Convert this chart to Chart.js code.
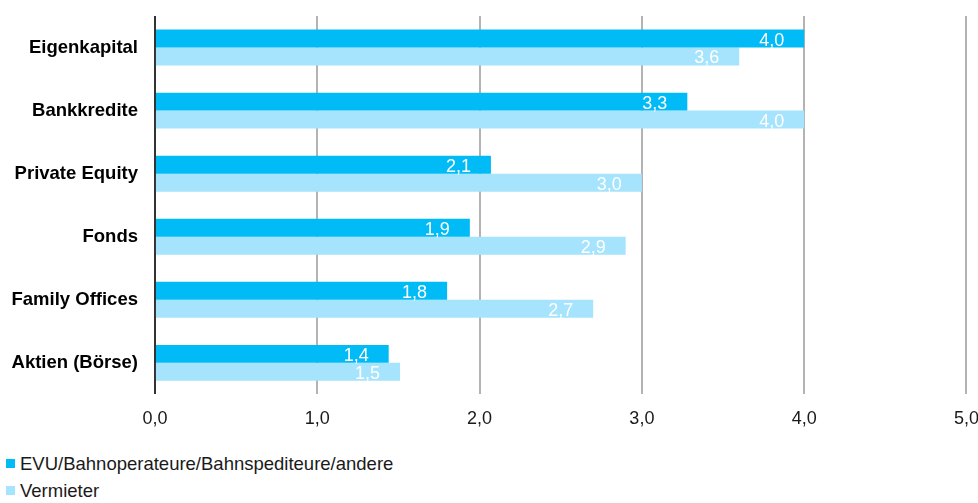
<!DOCTYPE html>
<html>
<head>
<meta charset="utf-8">
<script src="https://cdn.jsdelivr.net/npm/chart.js@4/dist/chart.umd.min.js"></script>
<style>
  html, body { margin: 0; padding: 0; background: #fff; overflow: hidden; }
  #wrap { position: relative; width: 979px; height: 430px; }
  #legend { position: absolute; left: 0; top: 0; width: 978px; font-family: "Liberation Sans", Arial, sans-serif; font-size: 18.5px; color: #1a1a1a; }
  .item { position: absolute; left: 0; height: 20px; }
  .box { position: absolute; left: 6px; width: 9px; height: 9px; }
  .txt { position: absolute; left: 20px; line-height: 18.5px; white-space: nowrap; }
</style>
</head>
<body>
<div id="wrap"><canvas id="c"></canvas></div>
<div id="legend"></div>
<script>
const categories = ["Eigenkapital", "Bankkredite", "Private Equity", "Fonds", "Family Offices", "Aktien (Börse)"];
const seriesNames = ["EVU/Bahnoperateure/Bahnspediteure/andere", "Vermieter"];
const evuValues = [4.0, 3.28, 2.07, 1.94, 1.80, 1.44];
const vermieterValues = [3.6, 4.0, 3.0, 2.9, 2.7, 1.51];
const seriesColors = ["#00BBF5", "#A6E3FD"];
const xTicks = [0, 1, 2, 3, 4, 5];

const fmt = v => v.toFixed(1).replace('.', ',');

const labelPlugin = {
  id: 'valueLabels',
  afterDatasetsDraw(chart) {
    const ctx = chart.ctx;
    ctx.save();
    ctx.font = '18px "Liberation Sans", Arial, sans-serif';
    ctx.fillStyle = '#ffffff';
    ctx.textAlign = 'right';
    ctx.textBaseline = 'middle';
    chart.data.datasets.forEach((ds, di) => {
      const meta = chart.getDatasetMeta(di);
      meta.data.forEach((el, i) => {
        ctx.fillText(fmt(ds.data[i]), el.x - 20, el.y + 2);
      });
    });
    ctx.restore();
  }
};

const chart = new Chart(document.getElementById('c'), {
  type: 'bar',
  data: {
    labels: categories,
    datasets: [
      { label: seriesNames[0], data: evuValues, backgroundColor: seriesColors[0], borderWidth: 0 },
      { label: seriesNames[1], data: vermieterValues, backgroundColor: seriesColors[1], borderWidth: 0 }
    ]
  },
  options: {
    indexAxis: 'y',
    responsive: true,
    maintainAspectRatio: false,
    animation: false,
    devicePixelRatio: 1,
    layout: { padding: { left: 11.5, top: 16, right: 0, bottom: 0 } },
    datasets: { bar: { barPercentage: 1.0, categoryPercentage: 0.57 } },
    plugins: { legend: { display: false }, tooltip: { enabled: false } },
    scales: {
      x: {
        min: 0, max: 5,
        afterBuildTicks: s => { s.ticks = xTicks.map(v => ({ value: v })); },
        grid: {
          color: c => (c.tick && c.tick.value === 0) ? '#333333' : '#B3B3B3',
          lineWidth: 2,
          drawTicks: true,
          tickLength: 14,
          tickColor: 'rgba(0,0,0,0)'
        },
        border: { display: false },
        ticks: {
          padding: 0,
          color: '#1a1a1a',
          font: { family: '"Liberation Sans", Arial, sans-serif', size: 18 },
          callback: v => fmt(v),
          maxRotation: 0
        }
      },
      y: {
        grid: { display: true, drawOnChartArea: false, drawTicks: true, tickLength: 17, tickColor: 'rgba(0,0,0,0)' },
        border: { display: false },
        ticks: {
          padding: 0,
          color: '#000000',
          font: { family: '"Liberation Sans", Arial, sans-serif', size: 18.5, weight: 'bold' }
        }
      }
    }
  },
  plugins: [labelPlugin]
});

// legend built from the datasets
const legend = document.getElementById('legend');
const baselines = [471, 498];
chart.data.datasets.forEach((ds, i) => {
  const item = document.createElement('div');
  item.className = 'item';
  const box = document.createElement('div');
  box.className = 'box';
  box.style.background = ds.backgroundColor;
  box.style.top = (baselines[i] - 12.5) + 'px';
  const txt = document.createElement('div');
  txt.className = 'txt';
  txt.textContent = ds.label;
  txt.style.top = (baselines[i] - 15.6) + 'px';
  item.appendChild(box);
  item.appendChild(txt);
  legend.appendChild(item);
});
</script>
</body>
</html>
